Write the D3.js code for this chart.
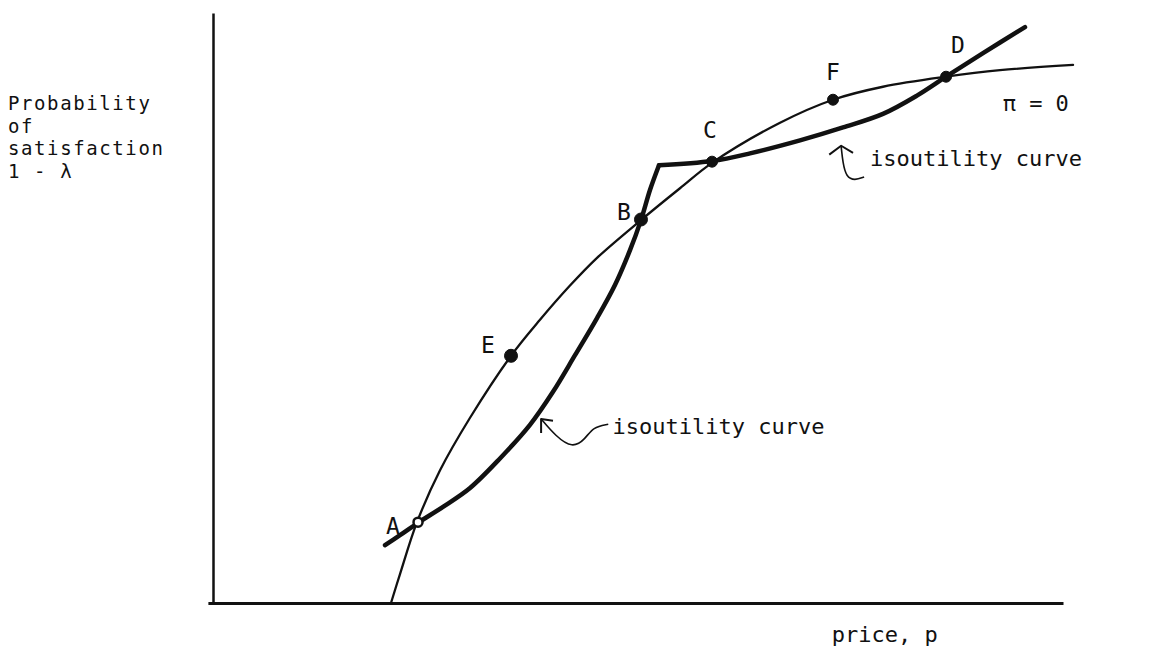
<!DOCTYPE html>
<html>
<head>
<meta charset="utf-8">
<script src="https://cdn.jsdelivr.net/npm/d3@7"></script>
<style>
  html, body { margin: 0; padding: 0; background: #fff; }
  svg text { font-family: "DejaVu Sans Mono", "Liberation Mono", monospace; fill: #111; }
</style>
</head>
<body>
<svg id="chart" width="1151" height="654"></svg>
<script>
// Price (horizontal) and probability of satisfaction (vertical), in plot units.
const priceMax = 10;
const probMax = 1;

// Zero-profit curve (pi = 0): [price, probability]
const zeroProfitCurve = [
  [2.094, 0.000], [2.200, 0.049], [2.400, 0.137], [2.671, 0.225],
  [3.024, 0.314], [3.506, 0.419], [3.847, 0.480], [4.200, 0.538],
  [4.518, 0.585], [5.035, 0.649], [5.494, 0.703], [5.871, 0.746],
  [6.671, 0.814], [7.294, 0.853], [7.882, 0.875], [8.624, 0.892],
  [9.259, 0.903], [10.118, 0.912]
];

// Isoutility curve, lower branch up to the kink
const isoutilityLower = [
  [2.024, 0.098], [2.200, 0.115], [2.412, 0.136], [2.706, 0.163],
  [3.024, 0.195], [3.376, 0.245], [3.729, 0.302], [4.000, 0.358],
  [4.259, 0.420], [4.518, 0.483], [4.729, 0.539], [4.906, 0.598],
  [5.035, 0.649], [5.141, 0.700], [5.247, 0.742]
];

// Isoutility curve, upper branch from the kink onward
const isoutilityUpper = [
  [5.247, 0.742], [5.871, 0.749], [6.318, 0.762], [6.906, 0.784],
  [7.412, 0.806], [7.882, 0.829], [8.282, 0.860], [8.624, 0.892],
  [9.059, 0.932], [9.553, 0.976]
];

// Labelled points on the curves
const pointNames = ["A", "B", "C", "D", "E", "F"];
const pointPrice = [2.412, 5.035, 5.871, 8.624, 3.506, 7.294];
const pointProb  = [0.137, 0.650, 0.748, 0.892, 0.419, 0.853];

// Axis titles and curve labels
const yTitleLines = ["Probability", "of", "satisfaction", "1 - λ"];
const xTitle = "price, p";
const zeroProfitLabel = "π = 0";
const isoutilityLabel = "isoutility curve";

const svg = d3.select("#chart");

const x = d3.scaleLinear().domain([0, priceMax]).range([213, 1063]);
const y = d3.scaleLinear().domain([0, probMax]).range([603, 13]);

// Axes: bare lines, no ticks
const xAxisScale = x.copy().domain([-0.06, priceMax]).range([x(-0.06), x(priceMax)]);
svg.append("g")
  .attr("transform", `translate(0,${y(0)})`)
  .call(d3.axisBottom(xAxisScale).tickValues([]).tickSizeOuter(0))
  .call(g => g.select(".domain").attr("stroke", "#111").attr("stroke-width", 3));

svg.append("g")
  .attr("transform", `translate(${x(0)},0)`)
  .call(d3.axisLeft(y).tickValues([]).tickSizeOuter(0))
  .call(g => g.select(".domain").attr("stroke", "#111").attr("stroke-width", 2.5));

const line = d3.line()
  .x(d => x(d[0]))
  .y(d => y(d[1]))
  .curve(d3.curveCatmullRom.alpha(0.5));

// pi = 0 curve (thin)
svg.append("path")
  .datum(zeroProfitCurve)
  .attr("d", line)
  .attr("fill", "none")
  .attr("stroke", "#111")
  .attr("stroke-width", 2.3)
  .attr("stroke-linecap", "round");

// Isoutility curve (heavy), drawn in two pieces to keep the kink sharp
[isoutilityLower, isoutilityUpper].forEach(seg => {
  svg.append("path")
    .datum(seg)
    .attr("d", line)
    .attr("fill", "none")
    .attr("stroke", "#111")
    .attr("stroke-width", 4.5)
    .attr("stroke-linecap", "round")
    .attr("stroke-linejoin", "miter");
});

// Point markers
const markerRadius = { A: 4.5, B: 6.5, C: 5.5, D: 5.5, E: 6.5, F: 5.5 };
pointNames.forEach((n, i) => {
  svg.append("circle")
    .attr("cx", x(pointPrice[i]))
    .attr("cy", y(pointProb[i]))
    .attr("r", markerRadius[n])
    .attr("fill", n === "A" ? "#fff" : "#111")
    .attr("stroke", "#111")
    .attr("stroke-width", n === "A" ? 2.5 : 1);
});

// Point letters, placed relative to each marker
const labelOffset = {
  A: [-32, 12], B: [-24, 0], C: [-9, -24], D: [5, -24], E: [-30, -3], F: [-7, -20]
};
pointNames.forEach((n, i) => {
  svg.append("text")
    .attr("x", x(pointPrice[i]) + labelOffset[n][0])
    .attr("y", y(pointProb[i]) + labelOffset[n][1])
    .attr("font-size", 23)
    .text(n);
});

// Y-axis title
svg.append("text")
  .attr("x", 8)
  .attr("y", 110)
  .attr("font-size", 19)
  .attr("letter-spacing", 1.6)
  .selectAll("tspan")
  .data(yTitleLines)
  .join("tspan")
  .attr("x", 8)
  .attr("dy", (d, i) => i === 0 ? 0 : 22.5)
  .text(d => d);

// X-axis title
svg.append("text")
  .attr("x", x(7.28))
  .attr("y", 642)
  .attr("font-size", 22)
  .text(xTitle);

// pi = 0 label
svg.append("text")
  .attr("x", x(9.29))
  .attr("y", y(0.834))
  .attr("font-size", 22)
  .text(zeroProfitLabel);

// Isoutility labels with hand-drawn pointer arrows
const arrowLine = d3.line().curve(d3.curveBasis);

const upperLabel = [7.73, 0.741];
svg.append("text")
  .attr("x", x(upperLabel[0]))
  .attr("y", y(upperLabel[1]))
  .attr("font-size", 22)
  .text(isoutilityLabel);

const lowerLabel = [4.70, 0.286];
svg.append("text")
  .attr("x", x(lowerLabel[0]))
  .attr("y", y(lowerLabel[1]))
  .attr("font-size", 22)
  .text(isoutilityLabel);

// Pointer arrows: tails and heads in plot units
const upperArrowTail = [[7.39, 0.774], [7.41, 0.746], [7.45, 0.722], [7.55, 0.716], [7.66, 0.722]];
const upperArrowHead = [[7.25, 0.760], [7.39, 0.775], [7.53, 0.763]];
const lowerArrowTail = [[3.86, 0.312], [4.03, 0.283], [4.23, 0.262], [4.38, 0.278], [4.47, 0.298], [4.65, 0.303]];
const lowerArrowHead = [[3.86, 0.288], [3.86, 0.312], [4.00, 0.309]];

[upperArrowTail, lowerArrowTail].forEach(pts => {
  svg.append("path")
    .attr("d", arrowLine(pts.map(p => [x(p[0]), y(p[1])])))
    .attr("fill", "none")
    .attr("stroke", "#111")
    .attr("stroke-width", 1.6);
});
[upperArrowHead, lowerArrowHead].forEach(pts => {
  svg.append("path")
    .attr("d", d3.line()(pts.map(p => [x(p[0]), y(p[1])])))
    .attr("fill", "none")
    .attr("stroke", "#111")
    .attr("stroke-width", 2)
    .attr("stroke-linejoin", "round");
});
</script>
</body>
</html>
